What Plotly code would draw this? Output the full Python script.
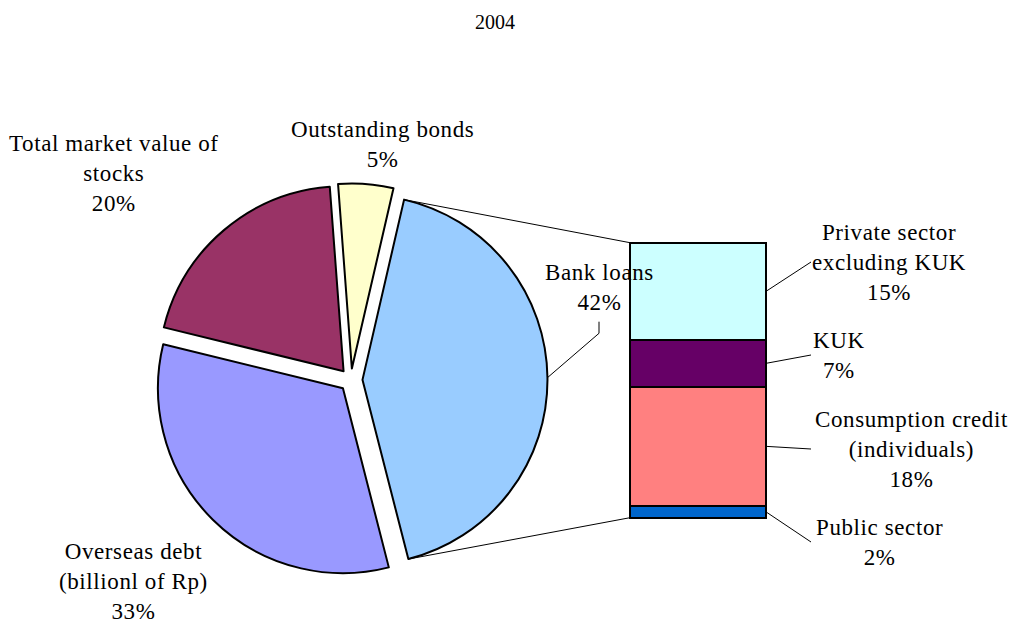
import math
import plotly.graph_objects as go

# ---------------- data ----------------
title_text = "2004"

pie_labels = ["Bank loans", "Overseas debt<br>(billionl of Rp)",
              "Total market value of<br>stocks", "Outstanding bonds"]
pie_values = [42.4, 32.8, 20.0, 4.8]
pie_colors = ["#99CCFF", "#9999FF", "#993366", "#FFFFCC"]

# bank-loan breakdown, bottom to top of the stacked bar
bar_labels = ["Public sector", "Consumption credit<br>(individuals)",
              "KUK", "Private sector<br>excluding KUK"]
bar_values = [1.8, 18.4, 7.2, 15.0]
bar_colors = ["#0066CC", "#FF8080", "#660066", "#CCFFFF"]

# ---------------- layout constants (pixels) ----------------
W, H = 1016, 623
FONT = "Liberation Serif, Times New Roman, serif"
LABEL_SIZE = 23
SPACING = "0.6px"

PIE_CX, PIE_CY, PIE_R, PULL = 351.0, 380.0, 185.0, 0.062
ROTATION = 13.0

BAR_L, BAR_R, BAR_T, BAR_B = 630.0, 766.0, 242.7, 517.7

pie_label_pos = [(599, 287.5), (133, 581), (114, 173.3), (382.5, 145)]
bar_label_pos = [(879, 542), (911, 449), (839, 355), (889, 262)]
LEADER_X = 811
BANK_LEADER_ELBOW = [(599, 333.3), (599, 321.7)]
TITLE_POS = (495, 21.7)


def px(x):
    return x / W


def py(y):
    return 1 - y / H


def spaced(text):
    parts = text.split("<br>")
    return "<br>".join(f'<span style="letter-spacing:{SPACING}">{p}</span>' for p in parts)


fig = go.Figure()

# ---------------- pie ----------------
half = PIE_R * (1 + PULL)
fig.add_trace(go.Pie(
    values=pie_values,
    labels=[l.replace("<br>", " ") for l in pie_labels],
    marker=dict(colors=pie_colors, line=dict(color="black", width=2)),
    sort=False,
    direction="clockwise",
    rotation=ROTATION,
    pull=[PULL] * len(pie_values),
    textinfo="none",
    hoverinfo="label+percent",
    showlegend=False,
    domain=dict(x=[px(PIE_CX - half), px(PIE_CX + half)],
                y=[py(PIE_CY + half), py(PIE_CY - half)]),
))

# ---------------- stacked bar ----------------
total_bar = sum(bar_values)
ppu = (BAR_B - BAR_T) / total_bar
PAD = 3.0
bar_w_px = BAR_R - BAR_L
bar_cx = (BAR_L + BAR_R) / 2
XR = 0.6
for lab, v, c in zip(bar_labels, bar_values, bar_colors):
    fig.add_trace(go.Bar(
        x=[0], y=[v], width=1.0,
        marker=dict(color=c, line=dict(color="black", width=2)),
        name=lab.replace("<br>", " "),
        showlegend=False,
        hoverinfo="name+y",
    ))

fig.update_layout(
    barmode="stack",
    xaxis=dict(visible=False, range=[-XR, XR], fixedrange=True,
               domain=[px(bar_cx - XR * bar_w_px), px(bar_cx + XR * bar_w_px)]),
    yaxis=dict(visible=False, range=[-PAD, total_bar + PAD], fixedrange=True,
               domain=[py(BAR_B + PAD * ppu), py(BAR_T - PAD * ppu)]),
)

# ---------------- geometry helpers ----------------
total_pie = sum(pie_values)
angles = []
a = ROTATION
for v in pie_values:
    span = v / total_pie * 360.0
    angles.append((a, a + span))
    a += span


def apex(i):
    a0, a1 = angles[i]
    mid = math.radians((a0 + a1) / 2)
    return (PIE_CX + PULL * PIE_R * math.sin(mid),
            PIE_CY - PULL * PIE_R * math.cos(mid))


def arc_point(i, ang_deg):
    ax, ay = apex(i)
    t = math.radians(ang_deg)
    return (ax + PIE_R * math.sin(t), ay - PIE_R * math.cos(t))


shapes = []


def line(p0, p1, width=1):
    shapes.append(dict(type="line", xref="paper", yref="paper",
                       x0=px(p0[0]), y0=py(p0[1]), x1=px(p1[0]), y1=py(p1[1]),
                       line=dict(color="black", width=width)))


# connector lines from bank-loan slice to bar
bank_top = arc_point(0, angles[0][0])
bank_bot = arc_point(0, angles[0][1])
line(bank_top, (BAR_L, BAR_T))
line(bank_bot, (BAR_L, BAR_B))

# bank loans leader
bank_mid = arc_point(0, (angles[0][0] + angles[0][1]) / 2)
pts = [bank_mid] + BANK_LEADER_ELBOW
for p0, p1 in zip(pts[:-1], pts[1:]):
    line(p0, p1)

# bar leaders
cum = 0.0
for v, (lx, ly) in zip(bar_values, bar_label_pos):
    mid_y = BAR_B - (cum + v / 2) * ppu
    cum += v
    line((BAR_R, mid_y), (LEADER_X, ly))

# ---------------- annotations ----------------
annotations = []
for lab, v, (x, y) in zip(pie_labels, pie_values, pie_label_pos):
    annotations.append(dict(text=spaced(f"{lab}<br>{round(v)}%"), x=px(x), y=py(y),
                            xref="paper", yref="paper", showarrow=False,
                            xanchor="center", yanchor="middle", align="center",
                            font=dict(family=FONT, size=LABEL_SIZE, color="black")))
for lab, v, (x, y) in zip(bar_labels, bar_values, bar_label_pos):
    annotations.append(dict(text=spaced(f"{lab}<br>{round(v)}%"), x=px(x), y=py(y),
                            xref="paper", yref="paper", showarrow=False,
                            xanchor="center", yanchor="middle", align="center",
                            font=dict(family=FONT, size=LABEL_SIZE, color="black")))
annotations.append(dict(text=title_text, x=px(TITLE_POS[0]), y=py(TITLE_POS[1]),
                        xref="paper", yref="paper", showarrow=False,
                        xanchor="center", yanchor="middle",
                        font=dict(family=FONT, size=20, color="black")))

fig.update_layout(
    width=W, height=H, autosize=False,
    margin=dict(l=0, r=0, t=0, b=0),
    paper_bgcolor="white", plot_bgcolor="white",
    shapes=shapes, annotations=annotations,
)

fig.write_html("out.html")
